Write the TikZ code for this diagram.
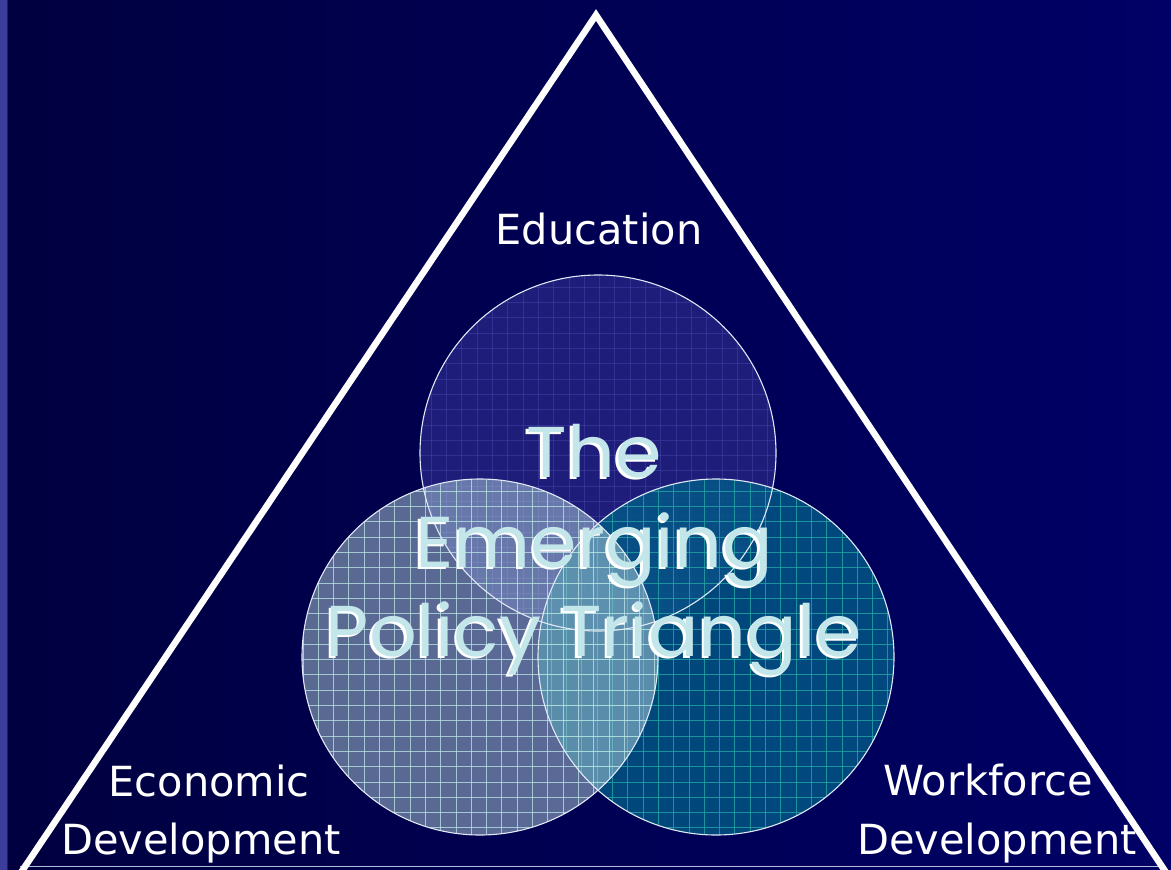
\documentclass[tikz,border=0pt]{standalone}
\usepackage{fontspec}
\setmainfont{DejaVu Sans}
\newfontfamily\titlefont{Poppins}
\definecolor{bgL}{RGB}{0,0,64}
\definecolor{bgR}{RGB}{0,0,102}
\definecolor{stripc}{RGB}{60,60,155}
\definecolor{stripd}{RGB}{28,28,110}
\definecolor{topfill}{RGB}{30,30,122}
\definecolor{topgrid}{RGB}{62,62,165}
\definecolor{leftfill}{RGB}{180,210,218}
\definecolor{leftgrid}{RGB}{190,232,232}
\definecolor{rightfill}{RGB}{0,91,134}
\definecolor{rightgrid}{RGB}{36,165,165}
\definecolor{ringc}{RGB}{225,232,245}
\definecolor{titlecyan}{RGB}{195,230,235}
\definecolor{bottomc}{RGB}{180,185,222}
\newcommand\shadowed[1]{\scalebox{1.04}[1]{\makebox[0pt][l]{\hspace{-2.5pt}\raisebox{-2.5pt}{\color{white}#1}}#1}}
\begin{document}
\begin{tikzpicture}[x=1pt,y=-1pt,
  lab/.style={text=white,font=\fontsize{41.5}{50}\selectfont,inner sep=0pt,anchor=base},
  ttl/.style={text=titlecyan,font=\titlefont\fontsize{72}{80}\selectfont,inner sep=0pt,anchor=base},
  ring/.style={draw=ringc,line width=1.1pt},
  gline/.style={line width=1pt}]
\useasboundingbox (0,0) rectangle (1171,870);
\clip (0,0) rectangle (1171,870);
% background
\shade[left color=bgL,right color=bgR] (0,0) rectangle (1171,870);
\fill[stripc] (0,0) rectangle (6.5,870);
\fill[stripd] (6.5,0) rectangle (8,870);
\draw[bottomc,line width=1.6pt] (20,866.3) -- (1166,866.3);
% triangle
\draw[white,line width=6.5pt,line join=miter] (16,880) -- (596,15) -- (1171,880);
% top circle
\begin{scope}
  \clip (598,453) circle (178);
  \fill[topfill] (598,453) circle (178);
  \foreach \i in {0,...,24} {
    \draw[gline,topgrid,opacity=0.6] ({416+\i*15.3},270) -- ++(0,370);
    \draw[gline,topgrid,opacity=0.6] (410,{272+\i*15.3}) -- ++(380,0);
  }
\end{scope}
% right circle
\begin{scope}
  \clip (716,657) circle (178);
  \fill[rightfill,opacity=0.8] (716,657) circle (178);
  \foreach \i in {0,...,24} {
    \draw[gline,rightgrid,opacity=0.8] ({536+\i*15.3},470) -- ++(0,380);
    \draw[gline,rightgrid,opacity=0.8] (530,{476+\i*15.3}) -- ++(380,0);
  }
\end{scope}
% left circle
\begin{scope}
  \clip (480,657) circle (178);
  \fill[leftfill,opacity=0.5] (480,657) circle (178);
  \foreach \i in {0,...,24} {
    \draw[gline,leftgrid,opacity=0.75] ({303+\i*15.3},470) -- ++(0,380);
    \draw[gline,leftgrid,opacity=0.75] (295,{476+\i*15.3}) -- ++(380,0);
  }
\end{scope}
% outlines
\draw[ring] (598,453) circle (178);
\draw[ring] (716,657) circle (178);
\draw[ring] (480,657) circle (178);
% labels
\node[lab] (edu) at (599,244) {Education};
\node[lab] (eco1) at (209,796) {Economic};
\node[lab] (eco2) at (201,854) {Development};
\node[lab] (wf1) at (988,795) {Workforce};
\node[lab] (wf2) at (997,854) {Development};
% title with shadow
\node[ttl] (t1) at (594,477) {\shadowed{The}};
\node[ttl] (t2) at (594,567) {\shadowed{Emerging}};
\node[ttl] (t3) at (594,656) {\shadowed{Policy Triangle}};
\end{tikzpicture}
\end{document}
